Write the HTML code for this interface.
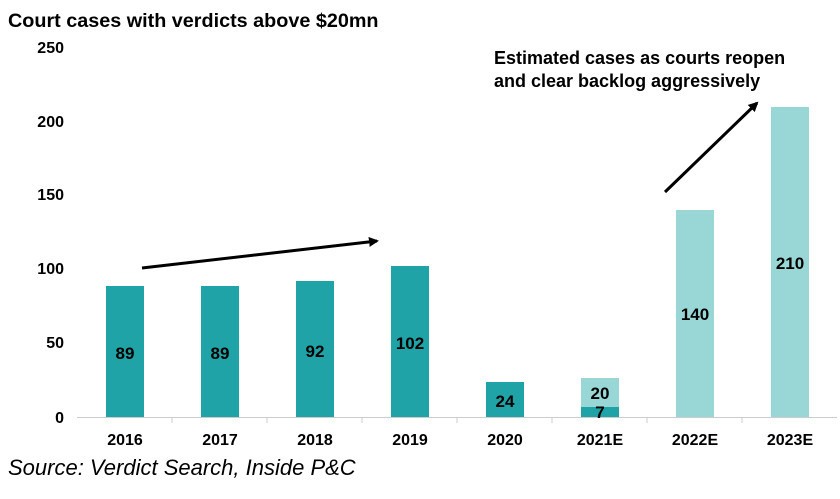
<!DOCTYPE html>
<html><head><style>body{margin:0;background:#fff}</style></head><body>
<svg width="840" height="494" xmlns="http://www.w3.org/2000/svg" font-family="Liberation Sans, Arial, sans-serif">
<defs><marker id="a" markerWidth="10" markerHeight="10" refX="8" refY="5" orient="auto" markerUnits="userSpaceOnUse"><path d="M0,0 L10,5 L0,10 z" fill="#000"/></marker></defs>
<text x="8" y="27" font-size="19.8" font-weight="bold">Court cases with verdicts above $20mn</text>
<g font-size="16" font-weight="bold" text-anchor="end">
<text x="64" y="53">250</text><text x="64" y="127">200</text><text x="64" y="200">150</text><text x="64" y="274">100</text><text x="64" y="348">50</text><text x="64" y="423">0</text></g>
<g fill="#1fa3a6">
<rect x="106" y="286" width="38" height="131"/><rect x="201" y="286" width="38" height="131"/><rect x="296" y="281" width="38" height="136"/><rect x="391" y="266" width="38" height="151"/><rect x="486" y="382" width="38" height="35"/><rect x="581" y="407" width="38" height="10"/></g>
<g fill="#99d6d6"><rect x="581" y="378" width="38" height="29"/><rect x="676" y="210" width="38" height="207"/><rect x="771" y="107" width="38" height="310"/></g>
<line x1="77" y1="417.5" x2="837" y2="417.5" stroke="#ccc"/>
<g stroke="#ccc"><line x1="172" y1="417" x2="172" y2="423"/><line x1="267" y1="417" x2="267" y2="423"/><line x1="362" y1="417" x2="362" y2="423"/><line x1="457" y1="417" x2="457" y2="423"/><line x1="552" y1="417" x2="552" y2="423"/><line x1="647" y1="417" x2="647" y2="423"/><line x1="742" y1="417" x2="742" y2="423"/></g>
<g font-size="17" font-weight="bold" text-anchor="middle">
<text x="125" y="359">89</text><text x="220" y="359">89</text><text x="315" y="357">92</text><text x="410" y="349">102</text><text x="505" y="407">24</text><text x="600" y="399">20</text><text x="600" y="418">7</text><text x="695" y="320">140</text><text x="790" y="269">210</text></g>
<g font-size="16" font-weight="bold" text-anchor="middle">
<text x="125" y="445">2016</text><text x="220" y="445">2017</text><text x="315" y="445">2018</text><text x="410" y="445">2019</text><text x="505" y="445">2020</text><text x="600" y="445">2021E</text><text x="695" y="445">2022E</text><text x="790" y="445">2023E</text></g>
<line x1="142" y1="268" x2="377" y2="241" stroke="#000" stroke-width="3" marker-end="url(#a)"/>
<line x1="665" y1="192" x2="757" y2="103" stroke="#000" stroke-width="3" marker-end="url(#a)"/>
<text x="494" y="64" font-size="18" font-weight="bold">Estimated cases as courts reopen</text>
<text x="494" y="87" font-size="18" font-weight="bold">and clear backlog aggressively</text>
<text x="8" y="475" font-size="22" font-style="italic">Source: Verdict Search, Inside P&amp;C</text>
</svg>
</body></html>
